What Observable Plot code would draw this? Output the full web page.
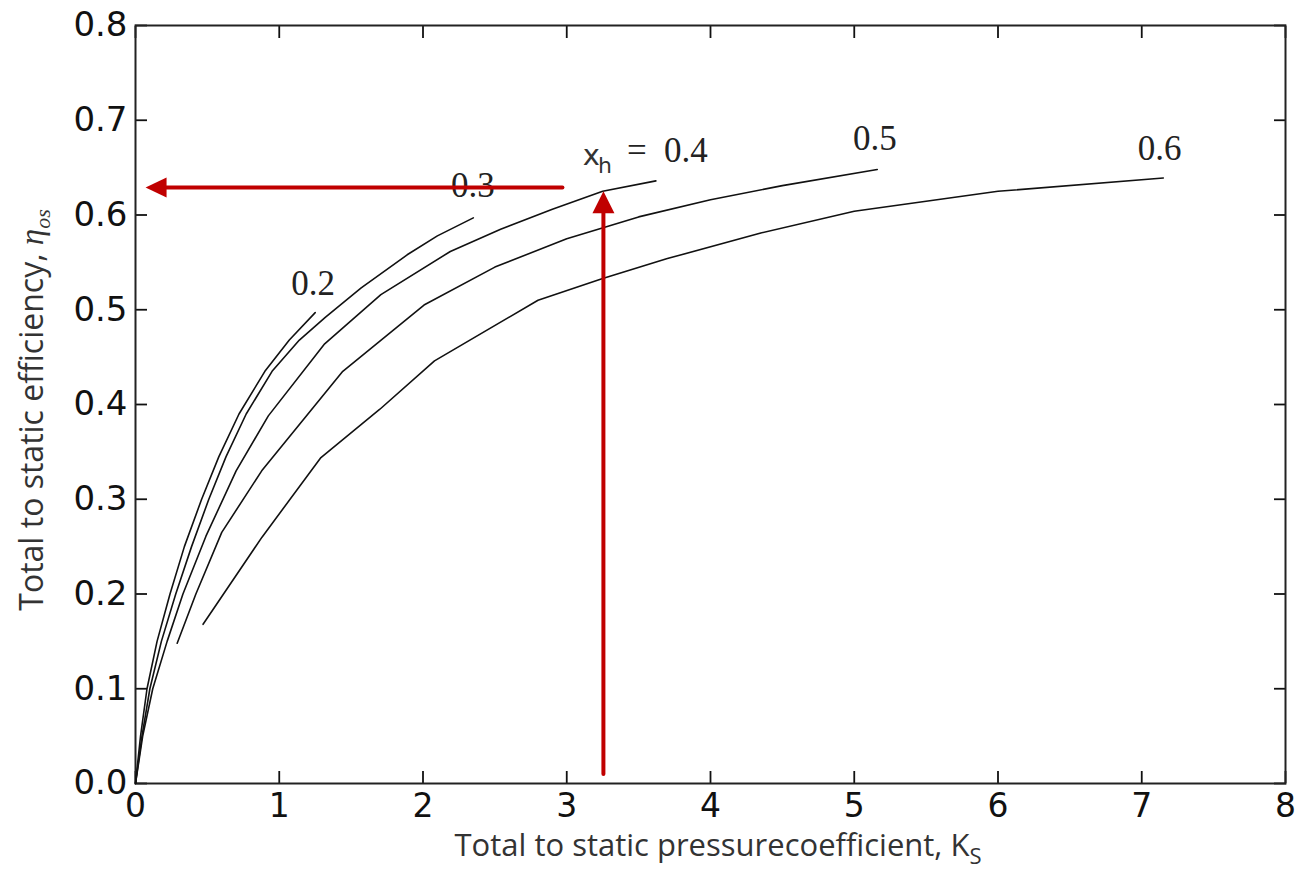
<!DOCTYPE html>
<html><head><meta charset="utf-8">
<script src="https://cdn.jsdelivr.net/npm/d3@7"></script>
<script src="https://cdn.jsdelivr.net/npm/@observablehq/plot@0.6"></script>
<style>body{margin:0;background:#fff}</style>
</head><body><div id="chart"></div>
<script>
// ---- data ----
const k02 = [0, 0.035, 0.08, 0.15, 0.24, 0.34, 0.46, 0.58, 0.72, 0.90, 1.07, 1.25];
const eta02 = [0, 0.05, 0.10, 0.15, 0.20, 0.25, 0.30, 0.345, 0.39, 0.435, 0.468, 0.497];
const k03 = [0, 0.045, 0.10, 0.18, 0.28, 0.39, 0.51, 0.63, 0.77, 0.95, 1.14, 1.32, 1.57, 1.89, 2.10, 2.35];
const eta03 = [0, 0.05, 0.10, 0.15, 0.20, 0.25, 0.30, 0.345, 0.39, 0.435, 0.468, 0.492, 0.523, 0.558, 0.578, 0.597];
const k04 = [0, 0.05, 0.12, 0.22, 0.33, 0.49, 0.70, 0.924, 1.316, 1.707, 2.19, 2.54, 2.90, 3.25, 3.62];
const eta04 = [0, 0.05, 0.10, 0.15, 0.20, 0.261, 0.33, 0.388, 0.464, 0.516, 0.5615, 0.585, 0.606, 0.625, 0.636];
const k05 = [0.29, 0.42, 0.60, 0.878, 1.442, 2.007, 2.5, 3.0, 3.5, 4.0, 4.5, 5.16];
const eta05 = [0.148, 0.20, 0.265, 0.33, 0.435, 0.505, 0.545, 0.575, 0.598, 0.616, 0.631, 0.648];
const k06 = [0.47, 0.88, 1.29, 1.70, 2.08, 2.80, 3.25, 3.70, 4.35, 5.0, 6.0, 7.15];
const eta06 = [0.168, 0.26, 0.344, 0.395, 0.446, 0.51, 0.533, 0.554, 0.581, 0.604, 0.625, 0.639];

const xhValues = [0.2, 0.3, 0.4, 0.5, 0.6];
const curveK = [k02, k03, k04, k05, k06];
const curveEta = [eta02, eta03, eta04, eta05, eta06];

const labelText = ["0.2", "0.3", "=\u20020.4", "0.5", "0.6"];
const labelK = [1.236, 2.347, 3.70, 5.144, 7.124];
const labelEta = [0.527, 0.631, 0.668, 0.680, 0.670];
const xhSymbol = "x", xhSub = "h";
const xhSymbolK = [3.171], xhSymbolEta = [0.663];
const xhSubK = [3.265], xhSubEta = [0.652];

const arrowX1 = [2.97, 3.255];
const arrowY1 = [0.629, 0.010];
const arrowX2 = [0.07, 3.255];
const arrowY2 = [0.629, 0.625];

const xTicks = [0, 1, 2, 3, 4, 5, 6, 7, 8];
const yTicks = [0, 0.1, 0.2, 0.3, 0.4, 0.5, 0.6, 0.7, 0.8];

const xTitle = "Total to static pressurecoefficient, K", xTitleSub = "S";
const yTitle = "Total to static efficiency, ", yTitleSym = "η", yTitleSub = "os";

// ---- tables ----
const curves = xhValues.flatMap((xh, i) => curveK[i].map((k, j) => ({xh, k, eta: curveEta[i][j]})));
const labels = labelText.map((t, i) => ({t, k: labelK[i], eta: labelEta[i]}));
const arrows = arrowX1.map((x1, i) => ({x1, y1: arrowY1[i], x2: arrowX2[i], y2: arrowY2[i]}));

const red = "#c00000";
const headLeft = {draw(c) { c.moveTo(0, 0); c.lineTo(21, -10); c.lineTo(21, 10); c.closePath(); }};
const headUp = {draw(c) { c.moveTo(0, 0); c.lineTo(-11, 22); c.lineTo(11, 22); c.closePath(); }};

const titles = (index, scales, values, dims) => {
  const g = d3.create("svg:g");
  const cx = dims.marginLeft + (dims.width - dims.marginLeft - dims.marginRight) / 2;
  const cy = dims.marginTop + (dims.height - dims.marginTop - dims.marginBottom) / 2;
  const tx = g.append("text").attr("x", cx + 8).attr("y", dims.height - 16)
    .attr("text-anchor", "middle").attr("font-family", "Open Sans").attr("font-size", 31).attr("fill", "#333");
  tx.append("tspan").text(xTitle);
  tx.append("tspan").attr("font-size", 22).attr("dy", 8).text(xTitleSub);
  const ty = g.append("text").attr("transform", `translate(43,${cy + 6}) rotate(-90)`)
    .attr("text-anchor", "middle").attr("font-family", "Open Sans").attr("font-size", 32).attr("fill", "#333");
  ty.append("tspan").text(yTitle);
  ty.append("tspan").attr("font-family", "Liberation Serif").attr("font-style", "italic").attr("font-size", 33).text(yTitleSym);
  ty.append("tspan").attr("font-family", "Liberation Serif").attr("font-style", "italic").attr("font-size", 22).attr("dy", 7).text(yTitleSub);
  return g.node();
};

const chart = Plot.plot({
  width: 1296, height: 872,
  marginLeft: 135, marginRight: 11, marginTop: 25, marginBottom: 89,
  style: {fontFamily: "DejaVu Sans", fontSize: "34px", background: "white", color: "#111"},
  x: {domain: [0, 8]},
  y: {domain: [0, 0.8]},
  marks: [
    Plot.axisX(xTicks, {anchor: "bottom", tickSize: -12, tickPadding: 22, strokeWidth: 1.8, fontSize: 33, label: null, tickFormat: d3.format("d")}),
    Plot.axisX(xTicks, {anchor: "top", tickSize: -12, strokeWidth: 1.8, label: null, tickFormat: () => ""}),
    Plot.axisY(yTicks, {anchor: "left", tickSize: -12, tickPadding: 20, strokeWidth: 1.8, fontSize: 34, label: null, tickFormat: d3.format(".1f")}),
    Plot.axisY(yTicks, {anchor: "right", tickSize: -12, strokeWidth: 1.8, label: null, tickFormat: () => ""}),
    Plot.frame({stroke: "#222", strokeWidth: 2}),
    Plot.line(curves, {x: "k", y: "eta", z: "xh", stroke: "#111", strokeWidth: 1.6}),
    Plot.text(labels, {x: "k", y: "eta", text: "t", fontFamily: "Liberation Serif", fontSize: 35, fill: "#222", textAnchor: "middle", lineAnchor: "middle"}),
    Plot.text(xhSymbolK, {x: d => d, y: (d, i) => xhSymbolEta[i], text: () => xhSymbol, fontFamily: "DejaVu Sans", fontSize: 29, fill: "#333", textAnchor: "middle", lineAnchor: "middle"}),
    Plot.text(xhSubK, {x: d => d, y: (d, i) => xhSubEta[i], text: () => xhSub, fontFamily: "DejaVu Sans", fontSize: 22, fill: "#333", textAnchor: "middle", lineAnchor: "middle"}),
    Plot.arrow(arrows, {x1: "x1", y1: "y1", x2: "x2", y2: "y2", stroke: red, strokeWidth: 4, headLength: 0, insetEnd: 16}),
    Plot.dot([arrows[0]], {x: "x2", y: "y2", symbol: headLeft, fill: red, stroke: null}),
    Plot.dot([arrows[1]], {x: "x2", y: "y2", symbol: headUp, fill: red, stroke: null}),
    titles
  ]
});
document.getElementById("chart").appendChild(chart);
</script>
</body></html>
